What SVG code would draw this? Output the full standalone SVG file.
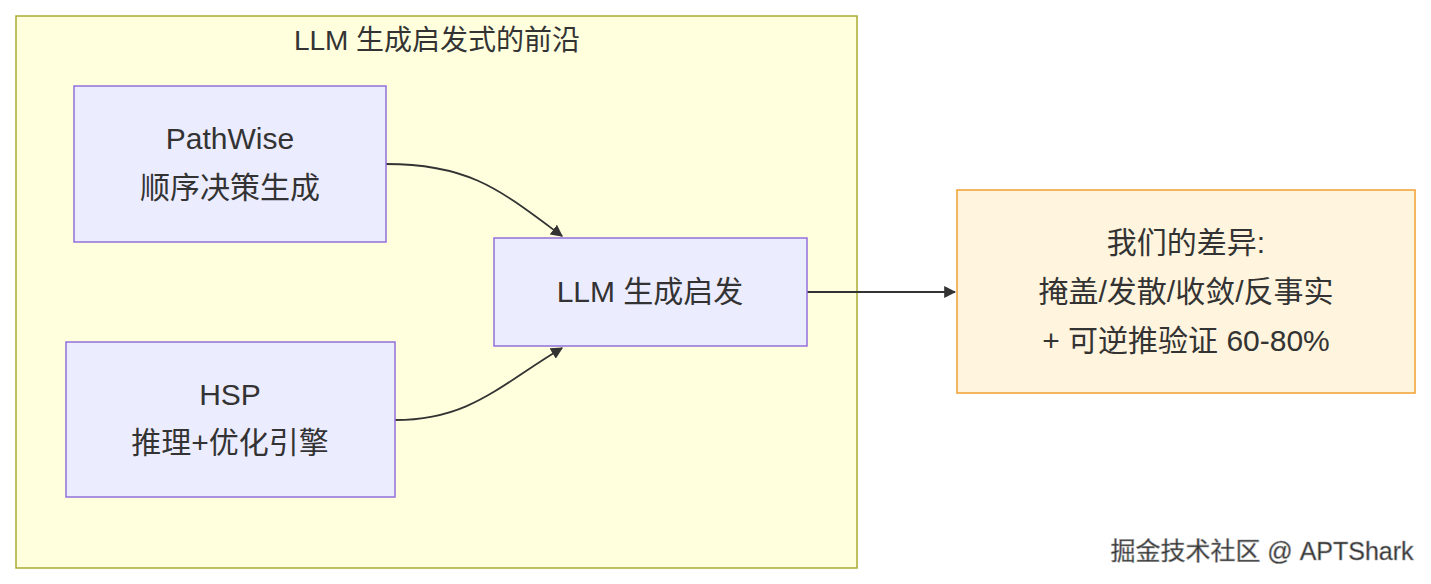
<svg xmlns="http://www.w3.org/2000/svg" width="1431" height="584" viewBox="0 0 1431 584">
<style>
text{font-family:"Trebuchet MS","Liberation Sans","Noto Sans CJK SC",sans-serif;fill:#333;text-anchor:middle}
.n{fill:#ececff;stroke:#9370db;stroke-width:1.5}
.t{font-size:30px}
.e{fill:none;stroke:#333;stroke-width:1.8}
</style>
<defs><marker id="a" viewBox="0 0 10 10" refX="9" refY="5" markerWidth="12" markerHeight="12" markerUnits="userSpaceOnUse" orient="auto"><path d="M0,0L10,5L0,10z" fill="#333"/></marker></defs>
<rect width="1431" height="584" fill="#fff"/>
<g id="cluster"><rect x="16" y="16" width="841" height="552" fill="#ffffde" stroke="#aaaa33" stroke-width="1.5"/><text x="437" y="50" font-size="28">LLM 生成启发式的前沿</text></g>
<g id="connectors">
<path class="e" d="M386,164C470,164 500,190 562,236" marker-end="url(#a)"/>
<path class="e" d="M395,420C470,420 500,385 562,348" marker-end="url(#a)"/>
<path class="e" d="M807,292L955,292" marker-end="url(#a)"/>
</g>
<g id="pathwise"><rect class="n" x="74" y="86" width="312" height="156"/><text class="t" x="230" y="149">PathWise</text><text class="t" x="230" y="198">顺序决策生成</text></g>
<g id="hsp"><rect class="n" x="66" y="342" width="329" height="155"/><text class="t" x="230" y="405">HSP</text><text class="t" x="230" y="453">推理+优化引擎</text></g>
<g id="llm"><rect class="n" x="494" y="238" width="313" height="108"/><text class="t" x="650" y="302">LLM 生成启发</text></g>
<g id="diff"><rect x="957" y="190" width="458" height="203" fill="#fff4dd" stroke="#f0a030" stroke-width="1.5"/><text class="t" x="1186" y="253">我们的差异:</text><text class="t" x="1186" y="302">掩盖/发散/收敛/反事实</text><text class="t" x="1186" y="351">+ 可逆推验证 60-80%</text></g>
<text x="1262" y="560" font-size="25" fill="#fff" stroke="#999" stroke-width="0.6">掘金技术社区 @ APTShark</text>
</svg>
